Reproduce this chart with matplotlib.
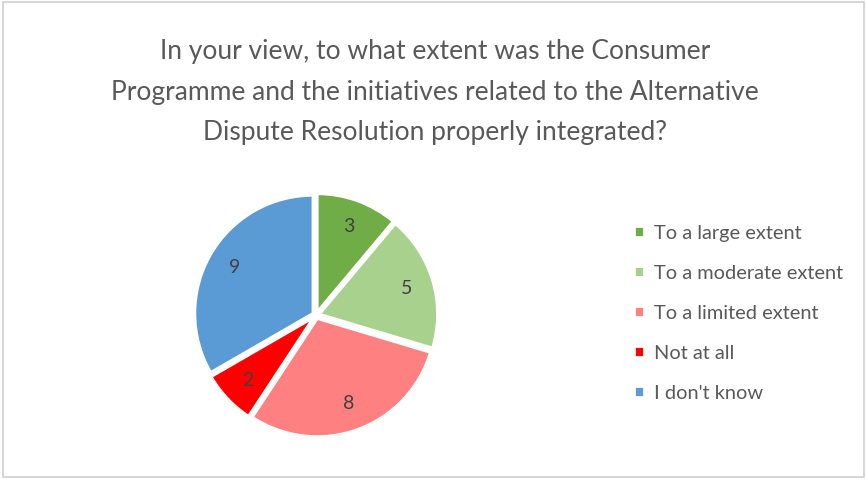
import numpy as np
import matplotlib.pyplot as plt
from matplotlib.patches import Rectangle

categorias = ["To a large extent", "To a moderate extent", "To a limited extent",
              "Not at all", "I don't know"]
valores = [3, 5, 8, 2, 9]
cores = ["#70ad47", "#a9d18e", "#ff8080", "#ff0000", "#5b9bd5"]

titulo = ("In your view, to what extent was the Consumer\n"
          "Programme and the initiatives related to the Alternative\n"
          "Dispute Resolution properly integrated?")

plt.rcParams['font.family'] = ['Lato', 'DejaVu Sans']

fig = plt.figure(figsize=(8.67, 4.79), dpi=100)

# moldura cinza da área do gráfico
fig.patches.append(Rectangle((0.003, 0.004), 0.994, 0.992, transform=fig.transFigure,
                             fill=False, edgecolor="#d0d0d0", linewidth=1.2))

fig.text(0.502, 0.918, titulo, ha='center', va='top', fontsize=19,
         color="#595959", linespacing=1.78)

# pizza
ax = fig.add_axes([0.2215, 0.083, 0.286, 0.518])
fatias, textos = ax.pie(valores, colors=cores, startangle=90, counterclock=False,
                        explode=[0.03] * len(valores), radius=1.0,
                        wedgeprops=dict(edgecolor='white', linewidth=2))
for f, v in zip(fatias, valores):
    ang = np.deg2rad((f.theta1 + f.theta2) / 2)
    ax.text(0.8 * np.cos(ang), 0.8 * np.sin(ang), str(v), ha='center', va='center',
            fontsize=14, color="#404040")
ax.set_xlim(-1.05, 1.05)
ax.set_ylim(-1.05, 1.05)
ax.set_aspect('equal')

# legenda
leg = fig.legend(fatias, categorias, loc='upper left', bbox_to_anchor=(0.722, 0.548),
                 frameon=False, fontsize=14.4, handlelength=0.5, handleheight=0.5,
                 handletextpad=0.5, labelspacing=1.15, labelcolor="#595959",
                 borderaxespad=0)

fig.savefig("out.png", dpi=100)
